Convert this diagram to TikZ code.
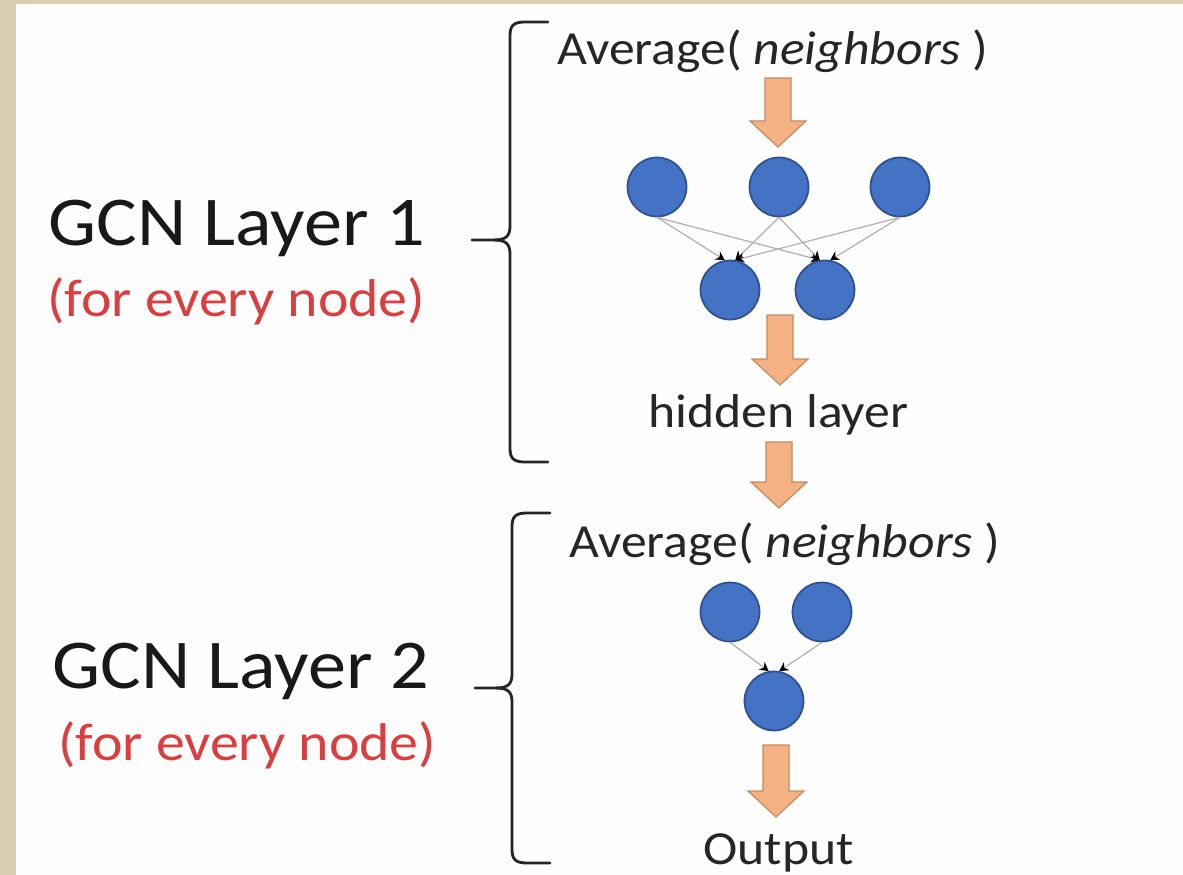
\documentclass[tikz,border=0pt]{standalone}
\usepackage{fontspec}
\setmainfont{Carlito}[FakeStretch=1.09]
\usetikzlibrary{arrows.meta, positioning, calc}

\definecolor{pagebeige}{RGB}{217,205,178}
\definecolor{pagewhite}{RGB}{253,253,253}
\definecolor{unitblue}{RGB}{68,114,196}
\definecolor{unitedge}{RGB}{47,82,143}
\definecolor{flowfill}{RGB}{244,177,131}
\definecolor{flowedge}{RGB}{196,140,100}
\definecolor{notered}{RGB}{218,62,62}

\tikzset{
    unit/.style={circle, fill=unitblue, draw=unitedge, line width=1pt, minimum size=1.18cm, inner sep=0pt},
    link/.style={draw=black!30, line width=0.7pt, -{Stealth[length=5pt, width=5.5pt, black]}},
    flow/.style={fill=flowfill, draw=flowedge, line width=0.7pt, line join=miter},
    curly/.style={draw=black!85, line width=1.6pt, line cap=round},
    layertitle/.style={inner sep=0pt, anchor=base west, text=black!90, font=\fontsize{39.8pt}{46pt}\selectfont},
    layernote/.style={inner sep=0pt, anchor=base west, text=notered, font=\fontsize{30.2pt}{36pt}\selectfont},
    steptext/.style={inner sep=0pt, anchor=base west, text=black!85, font=\fontsize{27pt}{32pt}\selectfont}
}

% block arrow: centre x, top y, tip y
\newcommand{\flowarrow}[3]{%
    \draw[flow] ({#1-13},#2) -- ({#1+13},#2) -- ({#1+13},{#3-26}) -- ({#1+28},{#3-26})
        -- (#1,#3) -- ({#1-28},{#3-26}) -- ({#1-13},{#3-26}) -- cycle;
}

\begin{document}
\begin{tikzpicture}[x=0.02cm, y=-0.02cm]
    % page
    \fill[pagebeige] (0,0) rectangle (1183,875);
    \fill[pagewhite] (16,4) rectangle (1183,875);
    \useasboundingbox (0,0) rectangle (1183,875);

    % Layer 1 : labels and brace
    \node[layertitle] (title1) at (48,245) {GCN Layer 1};
    \node[layernote] (note1) at (47,316) {(for every node)};
    \draw[curly] (548,22) -- (525,22) .. controls (513,22) and (510,26) .. (510,36)
        -- (510,226) .. controls (510,236) and (506,240) .. (494,240) -- (472,240);
    \draw[curly] (494,240) .. controls (506,240) and (510,244) .. (510,254)
        -- (510,448) .. controls (510,458) and (513,462) .. (525,462) -- (548,462);

    % Layer 1 : average over neighbours
    \node[steptext] (avg1) at (557,65) {Average( \textit{neighbors} )};
    \flowarrow{778}{78}{147}
    \node[unit] (n1) at (657,187) {};
    \node[unit] (n2) at (779,187) {};
    \node[unit] (n3) at (900,187) {};
    \node[unit] (h1) at (730,290) {};
    \node[unit] (h2) at (825,290) {};
    \draw[link] (n1.south) -- (h1.100);
    \draw[link] (n2.south) -- (h1.80);
    \draw[link] (n3.south) -- (h1.80);
    \draw[link] (n1.south) -- (h2.100);
    \draw[link] (n2.south) -- (h2.100);
    \draw[link] (n3.south) -- (h2.80);
    \flowarrow{780}{315}{385}
    \node[steptext] (hidden) at (648,427) {hidden layer};
    \flowarrow{779}{442}{508}

    % Layer 2 : labels and brace
    \node[layertitle] (title2) at (52,688) {GCN Layer 2};
    \node[layernote] (note2) at (58,760) {(for every node)};
    \draw[curly] (550,513) -- (527,513) .. controls (515,513) and (512,517) .. (512,527)
        -- (512,674) .. controls (512,684) and (508,688) .. (496,688) -- (475,688);
    \draw[curly] (496,688) .. controls (508,688) and (512,692) .. (512,702)
        -- (512,849) .. controls (512,859) and (515,863) .. (527,863) -- (550,863);

    % Layer 2 : average over neighbours
    \node[steptext] (avg2) at (569,557) {Average( \textit{neighbors} )};
    \node[unit] (m1) at (730,612) {};
    \node[unit] (m2) at (822,612) {};
    \node[unit] (out) at (774,701) {};
    \draw[link] (m1.south) -- (out.100);
    \draw[link] (m2.south) -- (out.80);
    \flowarrow{776}{745}{817}
    \node[steptext] (output) at (703,864) {Output};
\end{tikzpicture}
\end{document}
